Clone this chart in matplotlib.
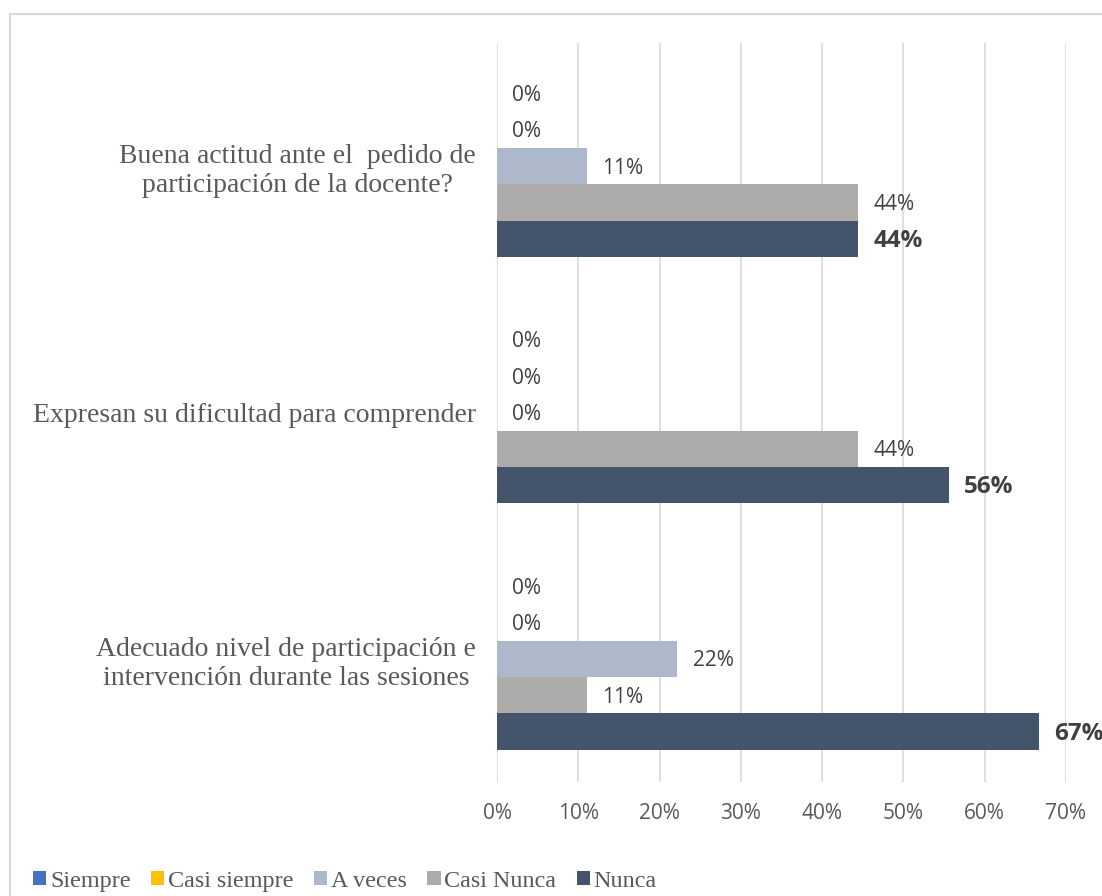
import matplotlib
matplotlib.use("Agg")
import matplotlib.pyplot as plt
import numpy as np
from matplotlib.patches import Rectangle

# ── Data ─────────────────────────────────────────────────────────────────────
categories = [
    "Adecuado nivel de participación e\nintervención durante las sesiones",
    "Expresan su dificultad para comprender",
    "Buena actitud ante el  pedido de\nparticipación de la docente?",
]
series = ["Siempre", "Casi siempre", "A veces", "Casi Nunca", "Nunca"]
siempre      = [0.000, 0.000, 0.000]
casi_siempre = [0.000, 0.000, 0.000]
a_veces      = [0.222, 0.000, 0.111]
casi_nunca   = [0.111, 0.444, 0.444]
nunca        = [0.667, 0.556, 0.444]
values = [siempre, casi_siempre, a_veces, casi_nunca, nunca]
colors = ["#4472C4", "#FFC000", "#ADB9CA", "#AEABAB", "#44546A"]

xticks = np.arange(0, 0.71, 0.1)

# ── Figure ───────────────────────────────────────────────────────────────────
fig = plt.figure(figsize=(11.02, 8.96), dpi=100, facecolor="white")
ax = fig.add_axes([497 / 1102, 1 - 782 / 896, (1066 - 497) / 1102, (782 - 43) / 896])

# outer chart border (runs off the right and bottom edges)
fig.patches.append(Rectangle((9.5 / 1102, -0.1), 1.2, 1 - 14 / 896 + 0.1,
                             transform=fig.transFigure, fill=False,
                             edgecolor="#d9d9d9", linewidth=1.5))

y = np.arange(len(categories))
bar_h = 0.1475
for i, (name, vals, col) in enumerate(zip(series, values, colors)):
    # Siempre on top of each group, Nunca at the bottom
    offs = (2 - i) * bar_h
    ax.barh(y + offs, vals, height=bar_h, color=col, label=name, zorder=3)
    for yy, v in zip(y + offs, vals):
        if name == "Nunca":
            ax.annotate(f"{v:.0%}", (v, yy), xytext=(11, -1.5), textcoords="offset points",
                        va="center", ha="left", fontsize=17.5, fontweight="bold",
                        color="#404040", family="Open Sans")
        else:
            ax.annotate(f"{v:.0%}", (v, yy), xytext=(11, -1.5), textcoords="offset points",
                        va="center", ha="left", fontsize=15,
                        color="#404040", family="Open Sans")

ax.set_xlim(0, 0.70)
ax.set_ylim(-0.5, 2.5)
ax.set_xticks(xticks)
ax.set_xticklabels([f"{t:.0%}" for t in xticks], fontsize=15, color="#595959",
                   family="Open Sans")
ax.set_yticks(y)
ax.set_yticklabels(categories, fontsize=20, color="#595959", family="Liberation Serif")
for lab in ax.get_yticklabels():
    lab.set_multialignment("center")
ax.tick_params(axis="both", length=0)
ax.tick_params(axis="x", pad=15)
ax.tick_params(axis="y", pad=15)
ax.grid(axis="x", color="#d9d9d9", linewidth=1.2, zorder=0)
for s in ax.spines.values():
    s.set_visible(False)

leg = fig.legend(loc="center left", bbox_to_anchor=(33 / 1102, 1 - 881 / 896), ncol=5,
                 frameon=False, handlelength=0.55, handleheight=0.55,
                 handletextpad=0.15, columnspacing=0.85, borderaxespad=0,
                 borderpad=0, prop={"family": "Liberation Serif", "size": 17.4})
for t in leg.get_texts():
    t.set_color("#595959")

fig.savefig("out.png", dpi=100, facecolor="white")
